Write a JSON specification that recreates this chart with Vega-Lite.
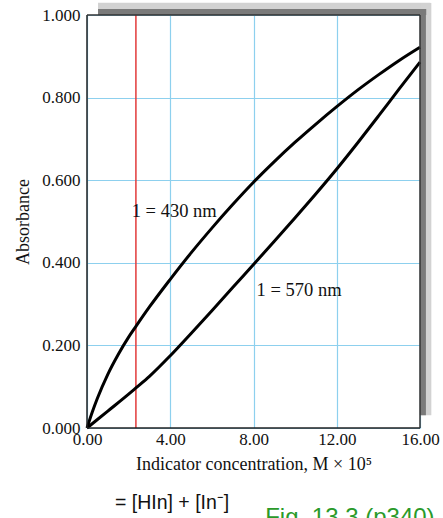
{
  "$schema": "https://vega.github.io/schema/vega-lite/v6.json",
  "autosize": "none",
  "width": 333,
  "height": 413,
  "padding": {"left": 87, "top": 15, "right": 23, "bottom": 90},
  "background": "white",
  "data": {"values": [{}]},
  "config": {
    "view": {"stroke": null},
    "axis": {
      "labelFont": "Liberation Serif",
      "labelFontSize": 17,
      "labelColor": "#111",
      "titleFont": "Liberation Serif",
      "titleFontSize": 18,
      "titleFontWeight": "normal",
      "titleColor": "#111",
      "ticks": false,
      "domain": false,
      "labelFlush": false,
      "gridColor": "#8dd0ee",
      "gridWidth": 1.2
    }
  },
  "datasets": {
    "curves": [
      {"x": 0, "A": 0, "s": "430"},
      {"x": 0.25, "A": 0.038, "s": "430"},
      {"x": 0.5, "A": 0.072, "s": "430"},
      {"x": 1.0, "A": 0.13, "s": "430"},
      {"x": 1.5, "A": 0.178, "s": "430"},
      {"x": 2.0, "A": 0.22, "s": "430"},
      {"x": 2.35, "A": 0.246, "s": "430"},
      {"x": 3.0, "A": 0.293, "s": "430"},
      {"x": 4.0, "A": 0.36, "s": "430"},
      {"x": 5.0, "A": 0.424, "s": "430"},
      {"x": 6.0, "A": 0.484, "s": "430"},
      {"x": 7.0, "A": 0.541, "s": "430"},
      {"x": 8.0, "A": 0.595, "s": "430"},
      {"x": 9.0, "A": 0.645, "s": "430"},
      {"x": 10.0, "A": 0.692, "s": "430"},
      {"x": 11.0, "A": 0.736, "s": "430"},
      {"x": 12.0, "A": 0.778, "s": "430"},
      {"x": 13.0, "A": 0.818, "s": "430"},
      {"x": 14.0, "A": 0.855, "s": "430"},
      {"x": 15.0, "A": 0.89, "s": "430"},
      {"x": 16.0, "A": 0.922, "s": "430"},
      {"x": 0, "A": 0, "s": "570"},
      {"x": 1.0, "A": 0.041, "s": "570"},
      {"x": 2.0, "A": 0.082, "s": "570"},
      {"x": 2.35, "A": 0.097, "s": "570"},
      {"x": 3.0, "A": 0.125, "s": "570"},
      {"x": 4.0, "A": 0.175, "s": "570"},
      {"x": 5.0, "A": 0.229, "s": "570"},
      {"x": 6.0, "A": 0.284, "s": "570"},
      {"x": 7.0, "A": 0.34, "s": "570"},
      {"x": 8.0, "A": 0.396, "s": "570"},
      {"x": 9.0, "A": 0.452, "s": "570"},
      {"x": 10.0, "A": 0.509, "s": "570"},
      {"x": 11.0, "A": 0.567, "s": "570"},
      {"x": 12.0, "A": 0.627, "s": "570"},
      {"x": 13.0, "A": 0.69, "s": "570"},
      {"x": 14.0, "A": 0.755, "s": "570"},
      {"x": 15.0, "A": 0.821, "s": "570"},
      {"x": 16.0, "A": 0.886, "s": "570"}
    ],
    "labels": [
      {"x": 2.15, "A": 0.526, "text": "1 = 430 nm"},
      {"x": 8.15, "A": 0.334, "text": "1 = 570 nm"}
    ]
  },
  "layer": [
    {
      "mark": {"type": "rule", "color": "#d2d2d2", "strokeWidth": 12},
      "encoding": {
        "x": {"datum": 0.53, "type": "quantitative", "scale": {"domain": [0, 16], "nice": false, "zero": false},
              "axis": {"values": [0, 4, 8, 12, 16], "format": ".2f", "labelPadding": 3, "title": "Indicator concentration, M × 10⁵", "titlePadding": 8, "grid": true}},
        "x2": {"datum": 16.5},
        "y": {"datum": 1.015, "type": "quantitative", "scale": {"domain": [0, 1], "nice": false},
              "axis": {"values": [0, 0.2, 0.4, 0.6, 0.8, 1.0], "format": ".3f", "labelPadding": 7, "title": "Absorbance", "titlePadding": 9, "grid": true}}
      }
    },
    {
      "mark": {"type": "rule", "color": "#d2d2d2", "strokeWidth": 11},
      "encoding": {
        "x": {"datum": 16.28, "type": "quantitative"},
        "y": {"datum": 0.031, "type": "quantitative"},
        "y2": {"datum": 1.029}
      }
    },
    {
      "mark": {"type": "rule", "color": "#7a7a7a", "strokeWidth": 6},
      "encoding": {
        "x": {"datum": 0.53, "type": "quantitative"},
        "x2": {"datum": 16.3},
        "y": {"datum": 1.007, "type": "quantitative"}
      }
    },
    {
      "mark": {"type": "rule", "color": "#7a7a7a", "strokeWidth": 6},
      "encoding": {
        "x": {"datum": 16.14, "type": "quantitative"},
        "y": {"datum": 0.031, "type": "quantitative"},
        "y2": {"datum": 1.012}
      }
    },
    {
      "mark": {"type": "rule", "color": "#e23b3b", "strokeWidth": 1.5},
      "encoding": {"x": {"datum": 2.35, "type": "quantitative"}}
    },
    {
      "data": {"name": "curves"},
      "mark": {"type": "line", "interpolate": "monotone", "strokeWidth": 3, "color": "black"},
      "encoding": {
        "x": {"field": "x", "type": "quantitative"},
        "y": {"field": "A", "type": "quantitative"},
        "detail": {"field": "s", "type": "nominal"}
      }
    },
    {
      "data": {"name": "labels"},
      "mark": {"type": "text", "align": "left", "baseline": "middle", "font": "Liberation Serif", "fontSize": 18.5, "color": "#111"},
      "encoding": {
        "x": {"field": "x", "type": "quantitative"},
        "y": {"field": "A", "type": "quantitative"},
        "text": {"field": "text"}
      }
    },
    {
      "mark": {"type": "rule", "color": "#222", "strokeWidth": 1.5},
      "encoding": {"x": {"datum": 0, "type": "quantitative"}}
    },
    {
      "mark": {"type": "rule", "color": "#222", "strokeWidth": 1.5},
      "encoding": {"y": {"datum": 0, "type": "quantitative"}}
    },
    {
      "mark": {"type": "rule", "color": "#333", "strokeWidth": 1.5},
      "encoding": {"y": {"datum": 1, "type": "quantitative"}}
    },
    {
      "mark": {"type": "rule", "color": "#333", "strokeWidth": 1.5},
      "encoding": {"x": {"datum": 16, "type": "quantitative"}}
    },
    {
      "mark": {"type": "text", "align": "center", "baseline": "middle", "font": "Liberation Sans", "fontSize": 19.5, "color": "#111"},
      "encoding": {
        "x": {"datum": 4.09, "type": "quantitative"},
        "y": {"datum": -0.1816, "type": "quantitative"},
        "text": {"value": "= [HIn] + [In⁻]"}
      }
    },
    {
      "mark": {"type": "text", "align": "left", "baseline": "alphabetic", "font": "Liberation Sans", "fontSize": 24, "color": "#2a9a2a"},
      "encoding": {
        "x": {"datum": 8.56, "type": "quantitative"},
        "y": {"datum": -0.236, "type": "quantitative"},
        "text": {"value": "Fig. 13.3 (p340)"}
      }
    }
  ]
}
